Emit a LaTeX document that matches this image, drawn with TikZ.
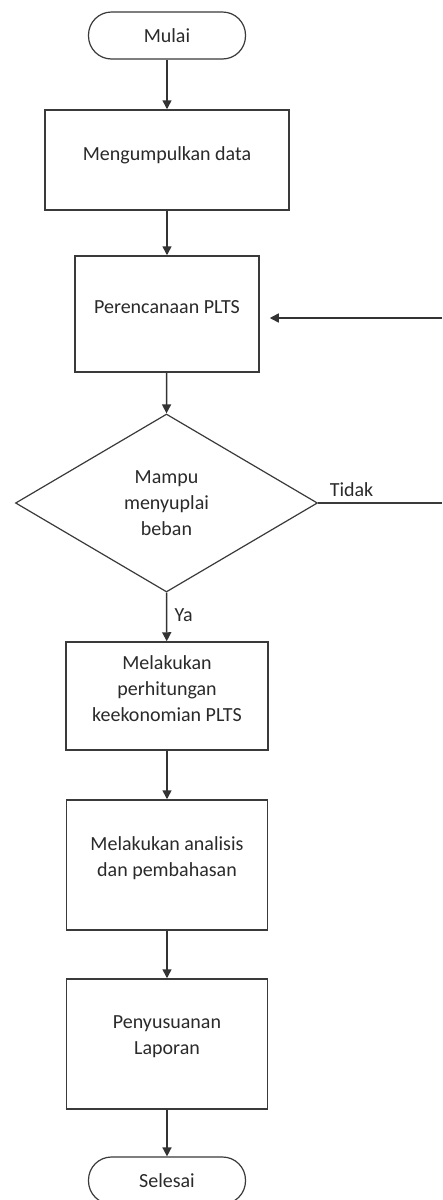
\documentclass[tikz,border=0pt]{standalone}
\usepackage{fontspec}
\setmainfont{Carlito}
\usetikzlibrary{shapes.geometric,arrows.meta}
\definecolor{lineg}{HTML}{3A3A3A}
\definecolor{textg}{HTML}{2A2A2A}
\begin{document}
\begin{tikzpicture}[x=1pt,y=-1pt,
  every node/.style={font=\fontsize{20}{26}\selectfont, text=textg},
  term/.style={draw=lineg, line width=1.2pt, rounded corners=23pt, minimum width=157pt, minimum height=47pt, inner sep=0pt},
  box/.style={draw=lineg, line width=1.5pt, inner sep=0pt},
  dec/.style={draw=lineg, line width=1.2pt, diamond, minimum width=302pt, minimum height=178pt, inner sep=0pt, align=center},
  arr/.style={draw=black!80, line width=1.5pt, -{Triangle[width=9pt,length=9pt]}},
  ln/.style={draw=lineg, line width=1.3pt},
  lbl/.style={font=\fontsize{20}{26}\selectfont, text=textg}
]
\useasboundingbox (0,0) rectangle (442,1200);
\fill[white] (0,0) rectangle (442,1200);

\node[term] (start) at (167,35.5) {Mulai};
\node[box, minimum width=244pt, minimum height=100pt,
  label={[lbl, yshift=5pt]center:Mengumpulkan data}] (b1) at (167,160) {};
\node[box, minimum width=184pt, minimum height=116pt,
  label={[lbl, yshift=7pt]center:Perencanaan PLTS}] (b2) at (167,314) {};
\node[dec] (d) at (166.5,503) {Mampu\\menyuplai\\beban};
\node[box, minimum width=202pt, minimum height=108pt,
  label={[lbl, yshift=7pt, align=center]center:Melakukan\\perhitungan\\keekonomian PLTS}] (b3) at (167,696) {};
\node[box, minimum width=201pt, minimum height=130pt,
  label={[lbl, yshift=7pt, align=center]center:Melakukan analisis\\dan pembahasan}] (b4) at (167,865) {};
\node[box, minimum width=201pt, minimum height=130pt,
  label={[lbl, yshift=7pt, align=center]center:Penyusuanan\\Laporan}] (b5) at (167,1044) {};
\node[term] (end) at (167,1180.5) {Selesai};

\coordinate (r1) at (442,503);
\coordinate (r2) at (442,318);

\draw[arr] (start) -- (b1);
\draw[arr] (b1) -- (b2);
\draw[arr] (b2) -- (d.north);
\draw[arr] (d.south) -- node[lbl, right, xshift=4pt, pos=0.47] (ya) {Ya} (b3);
\draw[arr] (b3) -- (b4);
\draw[arr] (b4) -- (b5);
\draw[arr] (b5) -- (end);
\draw[ln] (d.east) -- node[lbl, above, pos=0.27, yshift=2pt] (tidak) {Tidak} (r1);
\draw[arr, shorten >=10pt] (r2) -- (b2.east |- r2);
\end{tikzpicture}
\end{document}
